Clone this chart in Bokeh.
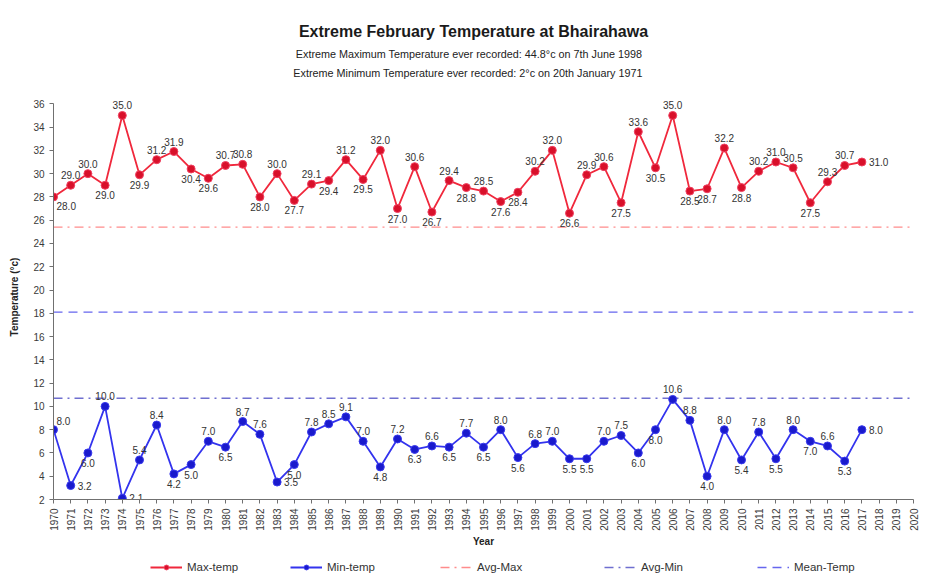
import math
from bokeh.plotting import figure
from bokeh.layouts import column
from bokeh.models import (ColumnDataSource, Range1d, FixedTicker, Legend,
                          LegendItem)
from bokeh.embed import file_html
from bokeh.resources import INLINE
from bokeh.core.properties import value

# ---------------- data ----------------
years = list(range(1970, 2018))
tick_years = list(range(1970, 2021))
max_temp = [28.0, 29.0, 30.0, 29.0, 35.0, 29.9, 31.2, 31.9, 30.4, 29.6,
            30.7, 30.8, 28.0, 30.0, 27.7, 29.1, 29.4, 31.2, 29.5, 32.0,
            27.0, 30.6, 26.7, 29.4, 28.8, 28.5, 27.6, 28.4, 30.2, 32.0,
            26.6, 29.9, 30.6, 27.5, 33.6, 30.5, 35.0, 28.5, 28.7, 32.2,
            28.8, 30.2, 31.0, 30.5, 27.5, 29.3, 30.7, 31.0]
min_temp = [8.0, 3.2, 6.0, 10.0, 2.1, 5.4, 8.4, 4.2, 5.0, 7.0,
            6.5, 8.7, 7.6, 3.5, 5.0, 7.8, 8.5, 9.1, 7.0, 4.8,
            7.2, 6.3, 6.6, 6.5, 7.7, 6.5, 8.0, 5.6, 6.8, 7.0,
            5.5, 5.5, 7.0, 7.5, 6.0, 8.0, 10.6, 8.8, 4.0, 8.0,
            5.4, 7.8, 5.5, 8.0, 7.0, 6.6, 5.3, 8.0]
avg_max = 25.4
avg_min = 10.7
mean_temp = 18.1
y_ticks = list(range(2, 37, 2))
series_names = ["Max-temp", "Min-temp", "Avg-Max", "Avg-Min", "Mean-Temp"]

title_text = "Extreme February Temperature at Bhairahawa"
sub1_text = "Extreme Maximum Temperature ever recorded: 44.8°c on 7th June 1998"
sub2_text = "Extreme Minimum Temperature ever recorded: 2°c on  20th January 1971"

FONT = "Liberation Sans"
W = 941
BL, BR = 53, 28          # left / right borders so all frames line up
FX0, FX1 = BL, W - BR    # frame span in page pixels
NAN = float("nan")

# ---------------- title strip ----------------
TH = 80
pt = figure(width=W, height=TH, x_range=Range1d(FX0, FX1),
            y_range=Range1d(TH, 0), x_axis_type=None, y_axis_type=None,
            output_backend="svg", toolbar_location=None, min_border_top=0,
            min_border_bottom=0, min_border_left=BL, min_border_right=BR)
pt.grid.visible = False
pt.outline_line_color = None
pt.text(x=[473], y=[31], text=[title_text], text_font=value(FONT),
        text_font_size="16px", text_font_style="bold", text_color="#1a1a1a",
        text_align="center", text_baseline="middle")
pt.text(x=[468.5, 469], y=[53, 72], text=[sub1_text, sub2_text],
        text_font=value(FONT), text_font_size="10.8px", text_color="#222222",
        text_align="center", text_baseline="middle")

# ---------------- main chart ----------------
p = figure(frame_width=FX1 - FX0, frame_height=405,
           x_range=Range1d(tick_years[0], tick_years[-1]),
           y_range=Range1d(y_ticks[0], y_ticks[-1] + 0.8),
           output_backend="svg", toolbar_location=None,
           min_border_left=BL, min_border_right=BR,
           min_border_top=14, min_border_bottom=46)

p.grid.visible = False
p.outline_line_color = None
p.background_fill_color = "white"
p.border_fill_color = "white"

for ax in (p.xaxis[0], p.yaxis[0]):
    ax.axis_line_color = "#707070"
    ax.major_tick_line_color = "#707070"
    ax.minor_tick_line_color = None
    ax.major_tick_in = 0
    ax.major_tick_out = 4
    ax.major_label_standoff = 5
    ax.major_label_text_font = FONT
    ax.major_label_text_font_size = "10px"
    ax.major_label_text_color = "#3a3a3a"
    ax.axis_label_text_font = FONT
    ax.axis_label_text_font_size = "10px"
    ax.axis_label_text_font_style = "bold"
    ax.axis_label_text_color = "#222222"

p.xaxis.ticker = FixedTicker(ticks=tick_years)
p.xaxis.major_label_orientation = math.pi / 2
p.xaxis.axis_label = "Year"
p.xaxis.axis_label_standoff = 2
p.yaxis.ticker = FixedTicker(ticks=y_ticks)
p.yaxis.bounds = (y_ticks[0], y_ticks[-1])
p.yaxis.axis_label = "Temperature (°c)"
p.yaxis.axis_label_standoff = 10

avg_style = [dict(line_color="#FF8C8C", line_width=1.4, line_dash="9 5 2 5"),
             dict(line_color="#6F6FD0", line_width=1.4, line_dash="9 5 2 5"),
             dict(line_color="#6666EE", line_width=1.4, line_dash="9 6")]
max_line = dict(line_color="#F0283C", line_width=1.8)
max_mark = dict(marker="circle", size=8, fill_color="#D8102A",
                line_color="#F04060")
min_line = dict(line_color="#3333EE", line_width=1.8)
min_mark = dict(marker="circle", size=8, fill_color="#1A1ACC",
                line_color="#3A3AEE")

# average lines across the full axis
xs_full = [tick_years[0], tick_years[-1]]
for val, st in zip((avg_max, avg_min, mean_temp), avg_style):
    p.line(xs_full, [val, val], **st)

src_max = ColumnDataSource(dict(x=years, y=max_temp))
src_min = ColumnDataSource(dict(x=years, y=min_temp))
p.line("x", "y", source=src_max, **max_line)
p.scatter("x", "y", source=src_max, **max_mark)
p.line("x", "y", source=src_min, **min_line)
p.scatter("x", "y", source=src_min, **min_mark)

PLACES = {
    "up": dict(text_align="center", text_baseline="bottom", x_offset=0, y_offset=-6),
    "dn": dict(text_align="center", text_baseline="top", x_offset=0, y_offset=6),
    "upl": dict(text_align="left", text_baseline="bottom", x_offset=3, y_offset=-5),
    "dnl": dict(text_align="left", text_baseline="top", x_offset=3, y_offset=5),
    "rt": dict(text_align="left", text_baseline="middle", x_offset=7, y_offset=0),
}


def label_groups(xv, yv, floor):
    groups = {k: dict(x=[], y=[], t=[]) for k in PLACES}
    n = len(yv)
    for i in range(n):
        nb = [yv[j] for j in (i - 1, i + 1) if 0 <= j < n]
        ref = sum(nb) / len(nb)
        k = "up" if yv[i] >= ref else "dn"
        if i == 0:
            k = k + "l"
        elif i == n - 1 or (k == "dn" and yv[i] - floor < 1.6):
            k = "rt"
        g = groups[k]
        g["x"].append(xv[i])
        g["y"].append(yv[i])
        g["t"].append(f"{yv[i]:.1f}")
    return groups


for yv in (max_temp, min_temp):
    for k, g in label_groups(years, yv, y_ticks[0]).items():
        if not g["x"]:
            continue
        p.text("x", "y", text="t", source=ColumnDataSource(g),
               text_font=value(FONT), text_font_size="10px",
               text_color="#333333", **PLACES[k])

# ---------------- legend strip ----------------
LH = 26
pl = figure(width=W, height=LH, x_range=Range1d(0, 1), y_range=Range1d(0, 1),
            x_axis_type=None, y_axis_type=None, output_backend="svg",
            toolbar_location=None, min_border_top=0, min_border_bottom=0,
            min_border_left=BL, min_border_right=BR)
pl.grid.visible = False
pl.outline_line_color = None
e_max = [pl.line([NAN], [NAN], **max_line), pl.scatter([NAN], [NAN], **max_mark)]
e_min = [pl.line([NAN], [NAN], **min_line), pl.scatter([NAN], [NAN], **min_mark)]
e_avg = [[pl.line([NAN], [NAN], **st)] for st in avg_style]
entries = [e_max, e_min] + e_avg
legend_x = [150, 290, 440, 604, 757]
for name, rs, lx in zip(series_names, entries, legend_x):
    lg = Legend(items=[LegendItem(label=name, renderers=rs)],
                location=(lx - FX0, 2), orientation="horizontal",
                border_line_color=None, background_fill_alpha=0,
                glyph_width=32, glyph_height=12, padding=0, margin=0,
                label_standoff=5, label_text_font=FONT,
                label_text_font_size="11.5px", label_text_color="#333333")
    pl.add_layout(lg)

layout = column(pt, p, pl, spacing=0)
open("out.html", "w").write(file_html(layout, INLINE))
